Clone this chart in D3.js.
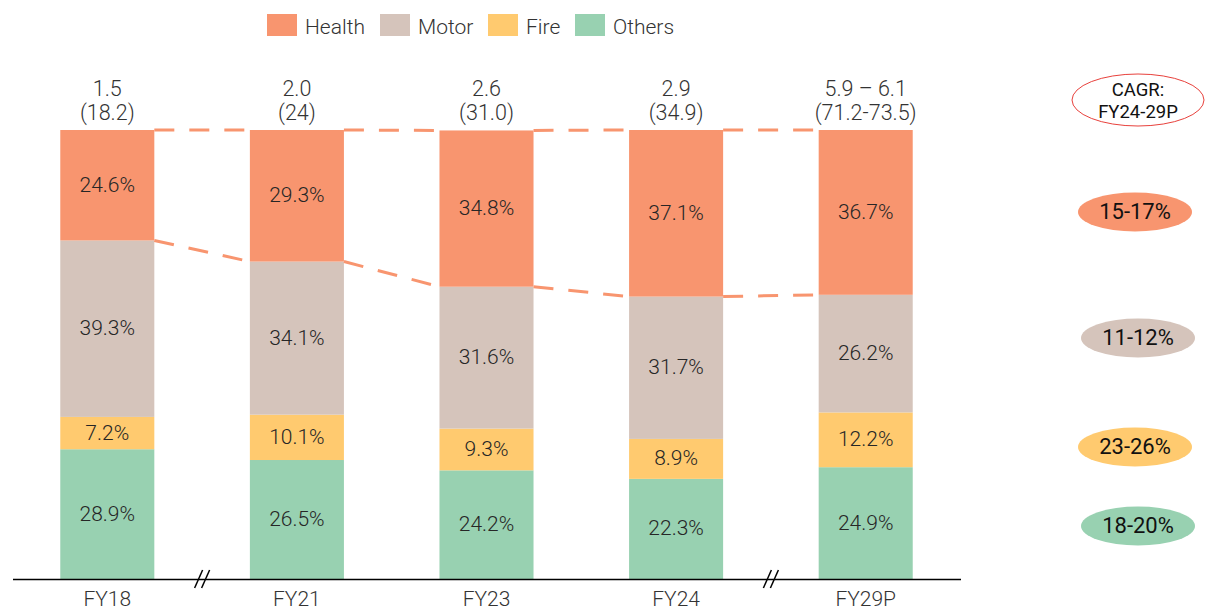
<!DOCTYPE html>
<html>
<head>
<meta charset="utf-8">
<script src="https://cdn.jsdelivr.net/npm/d3@7/dist/d3.min.js"></script>
<style>
  body { margin: 0; background: #fff; }
  svg { display: block; font-family: Roboto, "Noto Sans", sans-serif; }
</style>
</head>
<body>
<svg id="chart"></svg>
<script>
const WIDTH = 1207;
const HEIGHT = 607;

const years = ['FY18', 'FY21', 'FY23', 'FY24', 'FY29P'];
const totalsTop = ['1.5', '2.0', '2.6', '2.9', '5.9 \u2013 6.1'];
const totalsBottom = ['(18.2)', '(24)', '(31.0)', '(34.9)', '(71.2-73.5)'];
const health = [24.6, 29.3, 34.8, 37.1, 36.7];
const motor = [39.3, 34.1, 31.6, 31.7, 26.2];
const fire = [7.2, 10.1, 9.3, 8.9, 12.2];
const others = [28.9, 26.5, 24.2, 22.3, 24.9];
const segments = ['Health', 'Motor', 'Fire', 'Others'];
const cagr = ['15-17%', '11-12%', '23-26%', '18-20%'];

const colors = {
  Health: '#f8956f',
  Motor: '#d5c4bb',
  Fire: '#ffca6f',
  Others: '#98d1b1'
};

const rows = years.map((year, i) => ({
  year: year,
  Health: health[i],
  Motor: motor[i],
  Fire: fire[i],
  Others: others[i]
}));

const xScale = d3.scaleBand()
  .domain(years)
  .range([12.5, 960.5])
  .paddingInner(0.504)
  .paddingOuter(0.252);
const yScale = d3.scaleLinear()
  .domain([0, 100])
  .range([579, 130]);

const stack = d3.stack().keys(['Others', 'Fire', 'Motor', 'Health']);
const layers = stack(rows);

const svg = d3.select('#chart')
  .attr('width', WIDTH)
  .attr('height', HEIGHT);

// stacked bars
const layerG = svg.append('g')
  .selectAll('g')
  .data(layers)
  .join('g')
  .attr('fill', d => colors[d.key]);

layerG.selectAll('rect')
  .data(d => d)
  .join('rect')
  .attr('x', d => xScale(d.data.year))
  .attr('width', xScale.bandwidth())
  .attr('y', d => yScale(d[1]))
  .attr('height', d => yScale(d[0]) - yScale(d[1]));

layerG.selectAll('text')
  .data(d => d.map(v => Object.assign({ key: d.key }, v)))
  .join('text')
  .attr('x', d => xScale(d.data.year) + xScale.bandwidth() / 2)
  .attr('y', d => (yScale(d[0]) + yScale(d[1])) / 2 + 1)
  .attr('text-anchor', 'middle')
  .attr('dominant-baseline', 'middle')
  .attr('font-size', 21)
  .attr('font-weight', 300)
  .attr('fill', '#262626')
  .text(d => d.data[d.key].toFixed(1) + '%');

// dashed connectors: bar tops and health/motor boundary
const healthLayer = layers.find(l => l.key === 'Health');
const dashed = svg.append('g')
  .attr('stroke', '#f8956f')
  .attr('stroke-width', 3)
  .attr('stroke-dasharray', '20,15')
  .attr('fill', 'none');

d3.pairs(healthLayer).forEach(([a, b]) => {
  const x1 = xScale(a.data.year) + xScale.bandwidth();
  const x2 = xScale(b.data.year);
  dashed.append('line')
    .attr('x1', x1).attr('x2', x2)
    .attr('y1', yScale(a[1])).attr('y2', yScale(b[1]));
  dashed.append('line')
    .attr('x1', x1).attr('x2', x2)
    .attr('y1', yScale(a[0])).attr('y2', yScale(b[0]));
});

// totals above bars
const totals = svg.append('g')
  .selectAll('text')
  .data(years)
  .join('text')
  .attr('text-anchor', 'middle')
  .attr('font-size', 21.5)
  .attr('font-weight', 300)
  .attr('fill', '#333');
totals.append('tspan')
  .attr('x', d => xScale(d) + xScale.bandwidth() / 2)
  .attr('y', 96)
  .text((d, i) => totalsTop[i]);
totals.append('tspan')
  .attr('x', d => xScale(d) + xScale.bandwidth() / 2)
  .attr('y', 119.5)
  .text((d, i) => totalsBottom[i]);

// x axis
const xAxis = svg.append('g')
  .attr('transform', `translate(0, 579)`)
  .call(d3.axisBottom(xScale).tickSize(0).tickPadding(12));
xAxis.select('.domain').attr('stroke', '#000').attr('stroke-width', 1.5);
xAxis.selectAll('text')
  .attr('font-size', 21)
  .attr('font-weight', 300)
  .attr('font-family', 'Roboto, sans-serif')
  .attr('fill', '#333');

// axis breaks
[[0, 1], [3, 4]].forEach(([i, j]) => {
  const mid = (xScale(years[i]) + xScale.bandwidth() + xScale(years[j])) / 2;
  [-3.5, 3.5].forEach(off => {
    svg.append('line')
      .attr('x1', mid + off - 4).attr('y1', 588)
      .attr('x2', mid + off + 4).attr('y2', 570)
      .attr('stroke', '#000')
      .attr('stroke-width', 1.5);
  });
});

// legend
const legendX = [267, 380, 488, 575];
const legend = svg.append('g')
  .selectAll('g')
  .data(segments)
  .join('g')
  .attr('transform', (d, i) => `translate(${legendX[i]}, 14)`);
legend.append('rect')
  .attr('width', 30)
  .attr('height', 22)
  .attr('fill', d => colors[d]);
legend.append('text')
  .attr('x', 38)
  .attr('y', 19.5)
  .attr('font-size', 21)
  .attr('font-weight', 300)
  .attr('fill', '#333')
  .text(d => d);

// CAGR column
const cagrG = svg.append('g');
cagrG.append('ellipse')
  .attr('cx', 1138).attr('cy', 100)
  .attr('rx', 66).attr('ry', 26)
  .attr('fill', '#fff')
  .attr('stroke', '#e8413c')
  .attr('stroke-width', 1);
const cagrTitle = cagrG.append('text')
  .attr('text-anchor', 'middle')
  .attr('font-size', 18.5)
  .attr('fill', '#111');
cagrTitle.append('tspan').attr('x', 1138).attr('y', 96).text('CAGR:');
cagrTitle.append('tspan').attr('x', 1138).attr('y', 118).text('FY24-29P');

const cagrY = [212, 338, 447, 526];
const cagrX = [1135, 1138, 1135, 1138];
const pills = cagrG.selectAll('g.pill')
  .data(cagr)
  .join('g')
  .attr('class', 'pill')
  .attr('transform', (d, i) => `translate(${cagrX[i]}, ${cagrY[i]})`);
pills.append('ellipse')
  .attr('rx', 57)
  .attr('ry', 19.5)
  .attr('fill', (d, i) => colors[segments[i]]);
pills.append('text')
  .attr('text-anchor', 'middle')
  .attr('dominant-baseline', 'middle')
  .attr('y', 1)
  .attr('font-size', 22)
  .attr('fill', '#111')
  .text(d => d);
</script>
</body>
</html>
